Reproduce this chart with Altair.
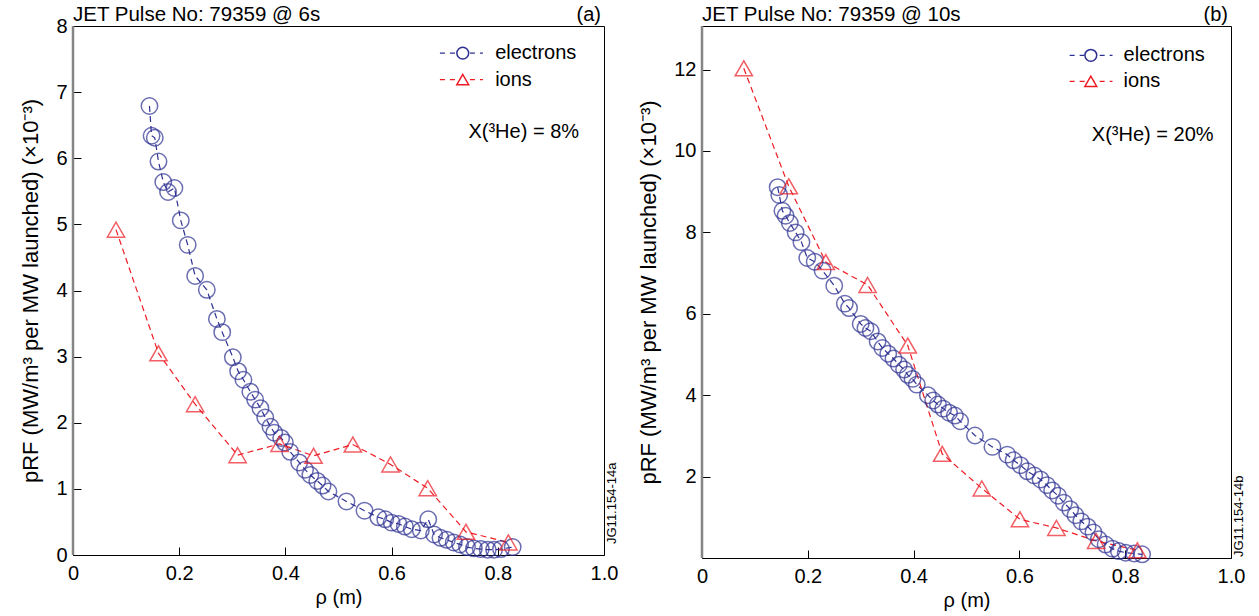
import altair as alt
import pandas as pd

FONT = "Liberation Sans"
BLUE = "#2e3192"
RED = "#ed1c24"

# ---------------- panel (a): 6 s, X(3He)=8% ----------------
a_el_rho = [0.144, 0.148, 0.154, 0.161, 0.170, 0.179, 0.191, 0.203, 0.216, 0.230,
            0.252, 0.271, 0.281, 0.301, 0.311, 0.321, 0.334, 0.343, 0.353, 0.362,
            0.372, 0.379, 0.392, 0.399, 0.409, 0.426, 0.437, 0.447, 0.460, 0.470,
            0.481, 0.515, 0.549, 0.575, 0.588, 0.600, 0.613, 0.625, 0.638, 0.655,
            0.669, 0.680, 0.692, 0.704, 0.717, 0.729, 0.742, 0.755, 0.768, 0.781,
            0.793, 0.806, 0.828]
a_el_p = [6.79, 6.34, 6.31, 5.95, 5.64, 5.49, 5.55, 5.06, 4.69, 4.22,
          4.01, 3.57, 3.37, 2.99, 2.78, 2.65, 2.47, 2.35, 2.22, 2.08,
          1.94, 1.85, 1.77, 1.70, 1.56, 1.40, 1.29, 1.21, 1.12, 1.05,
          0.96, 0.81, 0.67, 0.57, 0.54, 0.49, 0.47, 0.43, 0.39, 0.37,
          0.54, 0.31, 0.26, 0.23, 0.19, 0.16, 0.12, 0.10, 0.09, 0.08,
          0.08, 0.09, 0.12]
a_ion_rho = [0.081, 0.161, 0.230, 0.310, 0.389, 0.453, 0.527, 0.598, 0.668, 0.740, 0.820]
a_ion_p = [4.92, 3.05, 2.28, 1.51, 1.68, 1.50, 1.67, 1.37, 1.01, 0.35, 0.19]

# ---------------- panel (b): 10 s, X(3He)=20% ----------------
b_el_rho = [0.143, 0.146, 0.152, 0.158, 0.166, 0.177, 0.188, 0.199, 0.213, 0.228,
            0.250, 0.270, 0.278, 0.300, 0.309, 0.319, 0.332, 0.341, 0.352, 0.362,
            0.372, 0.382, 0.389, 0.398, 0.406, 0.427, 0.437, 0.446, 0.456, 0.467,
            0.478, 0.488, 0.516, 0.549, 0.577, 0.589, 0.602, 0.615, 0.628, 0.640,
            0.652, 0.662, 0.673, 0.684, 0.696, 0.706, 0.717, 0.729, 0.740, 0.750,
            0.763, 0.776, 0.788, 0.801, 0.817, 0.832]
b_el_p = [9.11, 8.92, 8.53, 8.41, 8.23, 8.00, 7.76, 7.37, 7.28, 7.06,
          6.69, 6.25, 6.14, 5.75, 5.65, 5.57, 5.32, 5.16, 5.02, 4.90,
          4.75, 4.63, 4.50, 4.40, 4.26, 4.00, 3.87, 3.77, 3.67, 3.57,
          3.50, 3.36, 3.01, 2.73, 2.54, 2.40, 2.28, 2.13, 2.03, 1.93,
          1.79, 1.66, 1.53, 1.36, 1.20, 1.05, 0.90, 0.77, 0.63, 0.46,
          0.33, 0.23, 0.17, 0.13, 0.11, 0.09]
b_ion_rho = [0.079, 0.164, 0.234, 0.313, 0.389, 0.454, 0.529, 0.601, 0.670, 0.745, 0.823]
b_ion_p = [12.03, 9.13, 7.27, 6.71, 5.22, 2.56, 1.71, 0.95, 0.74, 0.42, 0.19]

x_ticks = [0, 0.2, 0.4, 0.6, 0.8, 1.0]
a_y_ticks = [0, 1, 2, 3, 4, 5, 6, 7, 8]
b_y_ticks = [2, 4, 6, 8, 10, 12]
legend_labels = ["electrons", "ions"]

Y_TITLE = "pRF (MW/m³ per MW launched) (×10⁻³)"


def one(**kw):
    return alt.Chart(pd.DataFrame({k: [v] for k, v in kw.items()}))


def panel(el_rho, el_p, ion_rho, ion_p, ymax, yticks, w, h, title, tdy, tag, conc,
          code, code_dx, leg):
    el = pd.DataFrame({"rho": el_rho, "p": el_p, "i": list(range(len(el_rho)))})
    ion = pd.DataFrame({"rho": ion_rho, "p": ion_p, "i": list(range(len(ion_rho)))})
    xs = alt.Scale(domain=[0, 1], nice=False, zero=False)
    ys = alt.Scale(domain=[0, ymax], nice=False, zero=False)
    xaxis = alt.Axis(values=x_ticks, offset=-8, tickSize=8, domain=False, grid=False,
                     labelExpr="datum.value == 0 ? '0' : format(datum.value, '.1f')",
                     labelPadding=8, labelFlush=False, title="ρ (m)", titlePadding=4)
    yaxis = alt.Axis(values=yticks, offset=-8, tickSize=8, domain=False, grid=False,
                     format="d", labelPadding=6, labelFlush=False, title=Y_TITLE,
                     titlePadding=13, titleFontSize=22)

    left_line = one(k=0).mark_rule(color="#858585", strokeWidth=2.5).encode(
        x=alt.XDatum(0, scale=xs))
    el_line = alt.Chart(el).mark_line(color=BLUE, strokeDash=[6, 4], strokeWidth=1.2).encode(
        x=alt.X("rho:Q", scale=xs, axis=xaxis),
        y=alt.Y("p:Q", scale=ys, axis=yaxis),
        order="i:Q")
    el_pts = alt.Chart(el).mark_point(shape="circle", filled=False, size=270, strokeWidth=1.5,
                                      color=BLUE).encode(x="rho:Q", y="p:Q")
    ion_line = alt.Chart(ion).mark_line(color=RED, strokeDash=[6, 4], strokeWidth=1.2).encode(
        x="rho:Q", y="p:Q", order="i:Q")
    ion_pts = alt.Chart(ion).mark_point(shape="triangle-up", filled=False, size=300,
                                        strokeWidth=1.5, color=RED).encode(x="rho:Q", y="p:Q")

    (lx1, lx2, lxm, ltx, ly_e, ly_i, cx, cy) = leg
    layers = [left_line, el_line, ion_line, el_pts, ion_pts]
    for lab, col, shp, yy in [(legend_labels[0], BLUE, "circle", ly_e),
                              (legend_labels[1], RED, "triangle-up", ly_i)]:
        layers.append(one(label=lab).mark_rule(color=col, strokeDash=[5, 5], strokeWidth=1.2).encode(
            x=alt.XDatum(lx1), x2=alt.X2Datum(lx2), y=alt.YDatum(yy)))
        layers.append(one(label=lab).mark_point(shape=shp, filled=True, fill="white", stroke=col,
                                                strokeWidth=1.5, size=140, opacity=1).encode(
            x=alt.XDatum(lxm), y=alt.YDatum(yy)))
        layers.append(one(label=lab).mark_text(align="left", baseline="middle",
                                               fontSize=20, font=FONT, color="black").encode(
            x=alt.XDatum(ltx), y=alt.YDatum(yy), text="label:N"))
    layers.append(one(label=conc).mark_text(align="right", baseline="middle",
                                            fontSize=20, font=FONT, color="black").encode(
        x=alt.XDatum(cx), y=alt.YDatum(cy), text="label:N"))
    layers.append(one(label=title).mark_text(align="left", baseline="alphabetic", dy=tdy,
                                             fontSize=20.5, font=FONT, color="black").encode(
        x=alt.XDatum(0.0), y=alt.YDatum(ymax), text="label:N"))
    layers.append(one(label=tag).mark_text(align="right", baseline="alphabetic", dx=-3, dy=tdy,
                                           fontSize=20, font=FONT, color="black").encode(
        x=alt.XDatum(1.0), y=alt.YDatum(ymax), text="label:N"))
    layers.append(one(label=code).mark_text(align="left", baseline="top", angle=270,
                                            dx=code_dx, dy=2, fontSize=13, font=FONT,
                                            color="black").encode(
        x=alt.XDatum(1.0), y=alt.YDatum(0), text="label:N"))

    return alt.layer(*layers).properties(width=w, height=h)


left = panel(a_el_rho, a_el_p, a_ion_rho, a_ion_p, 8, a_y_ticks, 531, 529,
             "JET Pulse No: 79359  @ 6s", -5, "(a)", "X(³He) = 8%", "JG11.154-14a", 11,
             (0.691, 0.772, 0.734, 0.795, 7.59, 7.19, 0.953, 6.40))
right = panel(b_el_rho, b_el_p, b_ion_rho, b_ion_p, 13.07, b_y_ticks, 529, 532,
              "JET Pulse No: 79359  @ 10s", -5, "(b)", "X(³He) = 20%", "JG11.154-14b", 1,
              (0.695, 0.776, 0.735, 0.797, 12.35, 11.71, 0.967, 10.40))

chart = alt.hconcat(left, right, spacing=17).configure_view(
    stroke="black", strokeWidth=1
).configure_axis(
    labelFont=FONT, titleFont=FONT, labelFontSize=20, titleFontSize=20,
    labelColor="black", titleColor="black", tickColor="black", tickWidth=1,
    titleFontWeight="normal"
).properties(
    padding={"left": 19, "top": 4, "right": 8, "bottom": 0},
    background="white"
)

chart.save("out.html", embed_options={"renderer": "svg", "actions": False})
